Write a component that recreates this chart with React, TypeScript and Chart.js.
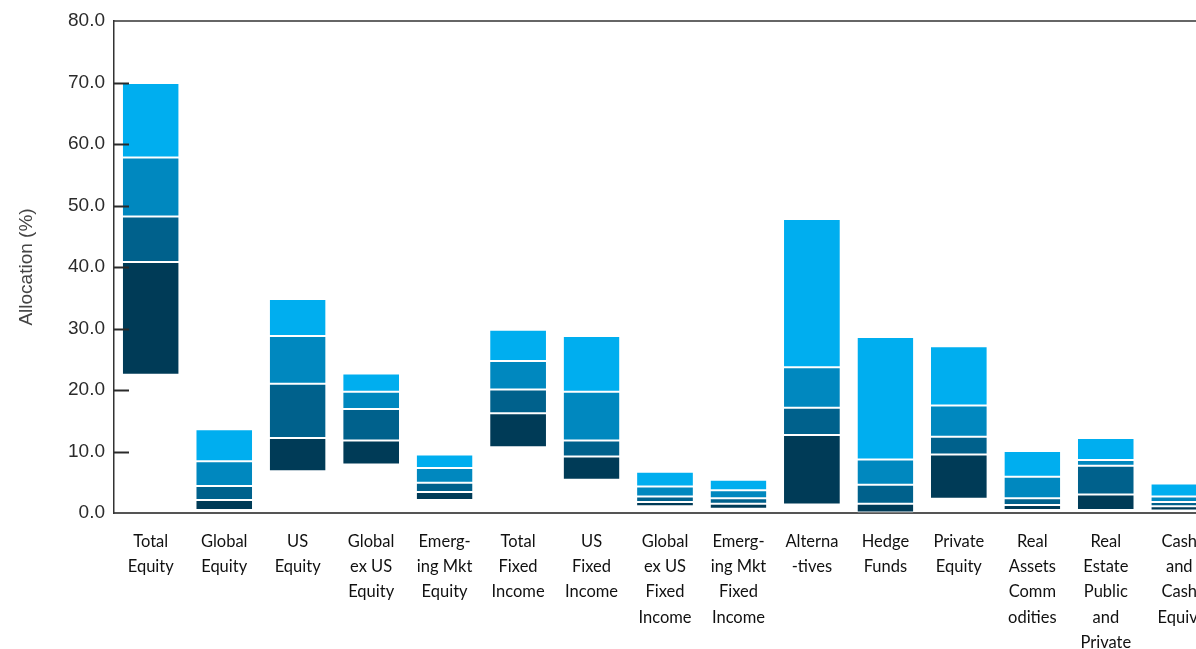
import React, { useEffect, useRef } from "react";
import { Chart, registerables } from "chart.js";

Chart.register(...registerables);

const categories: string[][] = [
  ["Total", "Equity"],
  ["Global", "Equity"],
  ["US", "Equity"],
  ["Global", "ex US", "Equity"],
  ["Emerg-", "ing Mkt", "Equity"],
  ["Total", "Fixed", "Income"],
  ["US", "Fixed", "Income"],
  ["Global", "ex US", "Fixed", "Income"],
  ["Emerg-", "ing Mkt", "Fixed", "Income"],
  ["Alterna", "-tives"],
  ["Hedge", "Funds"],
  ["Private", "Equity"],
  ["Real", "Assets", "Comm", "odities"],
  ["Real", "Estate", "Public", "and", "Private"],
  ["Cash", "and", "Cash", "Equiv."],
];

const p5 = [22.5, 0.5, 6.8, 7.9, 2.1, 10.7, 5.4, 1.1, 0.7, 1.4, 0.0, 2.3, 0.5, 0.5, 0.4];
const p25 = [40.8, 2.1, 12.2, 11.8, 3.4, 16.2, 9.2, 1.8, 1.5, 12.7, 1.5, 9.5, 1.3, 3.0, 1.1];
const p50 = [48.2, 4.4, 21.0, 16.9, 4.9, 20.1, 11.8, 2.7, 2.4, 17.1, 4.6, 12.4, 2.4, 7.7, 1.8];
const p75 = [57.8, 8.4, 28.8, 19.7, 7.3, 24.7, 19.7, 4.3, 3.7, 23.7, 8.7, 17.5, 5.9, 8.6, 2.7];
const p95 = [69.9, 13.6, 34.8, 22.7, 9.5, 29.8, 28.8, 6.7, 5.4, 47.8, 28.6, 27.1, 10.1, 12.2, 4.8];

const yTicks = [0, 10, 20, 30, 40, 50, 60, 70, 80];

const segmentColors = ["#003b57", "#00618c", "#0088bf", "#00aeef"];

const frame = {
  id: "frame",
  afterDatasetsDraw(chart: any) {
    const { ctx, chartArea, scales } = chart;
    const y = scales.y;
    ctx.save();
    ctx.strokeStyle = "#333333";
    ctx.lineWidth = 1.5;
    ctx.beginPath();
    ctx.moveTo(chartArea.left, chartArea.top);
    ctx.lineTo(chartArea.right, chartArea.top);
    ctx.stroke();
    ctx.lineWidth = 2;
    ctx.strokeStyle = "#2a2a2a";
    for (const v of yTicks) {
      if (v === 0 || v === 80) continue;
      const py = Math.round(y.getPixelForValue(v)) + 0.5;
      ctx.beginPath();
      ctx.moveTo(chartArea.left, py);
      ctx.lineTo(chartArea.left + 15, py);
      ctx.stroke();
    }
    ctx.restore();
  },
};

export default function App() {
  const ref = useRef<HTMLCanvasElement | null>(null);

  useEffect(() => {
    if (!ref.current) return;
    const bounds = [p5, p25, p50, p75, p95];
    const datasets = segmentColors.map((color, i) => ({
      label: "seg" + i,
      data: categories.map((_, k) => [bounds[i][k], bounds[i + 1][k]]),
      backgroundColor: color,
      borderColor: "#ffffff",
      borderWidth: { top: 1, bottom: 1, left: 0, right: 0 },
      borderSkipped: false as const,
      grouped: false,
      barPercentage: 0.76,
      categoryPercentage: 1,
    }));

    const chart = new Chart(ref.current, {
      type: "bar",
      data: { labels: categories, datasets: datasets as any },
      options: {
        animation: false,
        responsive: false,
        maintainAspectRatio: false,
        layout: { padding: { top: 21, right: 24, bottom: 0, left: 0 } },
        plugins: {
          legend: { display: false },
          tooltip: { enabled: false },
        },
        scales: {
          x: {
            offset: true,
            grid: { display: true, drawOnChartArea: false, drawTicks: false },
            border: { display: true, color: "#555555", width: 2 },
            ticks: {
              autoSkip: false,
              maxRotation: 0,
              minRotation: 0,
              padding: 16,
              color: "#111111",
              font: { family: "Lato", size: 16.5, lineHeight: 1.53 },
            },
            afterFit(scale: any) {
              scale.height = 136;
            },
          },
          y: {
            min: 0,
            max: 80,
            grid: { display: true, drawOnChartArea: false, drawTicks: false },
            border: { display: true, color: "#333333", width: 1.5 },
            ticks: {
              stepSize: 10,
              padding: 9,
              color: "#2b2b2b",
              font: { family: "Liberation Sans", size: 19 },
              callback: (v: any) => Number(v).toFixed(1),
            },
            title: {
              display: true,
              text: "Allocation (%)",
              color: "#444444",
              font: { family: "Liberation Sans", size: 19 },
              padding: { top: 15, bottom: 0 },
            },
            afterFit(scale: any) {
              scale.width = 114;
            },
          },
        },
      },
      plugins: [frame],
    });
    return () => chart.destroy();
  }, []);

  return (
    <div
      style={{
        position: "fixed",
        left: 0,
        top: 0,
        width: 1196,
        height: 649,
        overflow: "hidden",
        background: "#ffffff",
      }}
    >
      <canvas ref={ref} width={1240} height={649} style={{ display: "block" }} />
    </div>
  );
}
